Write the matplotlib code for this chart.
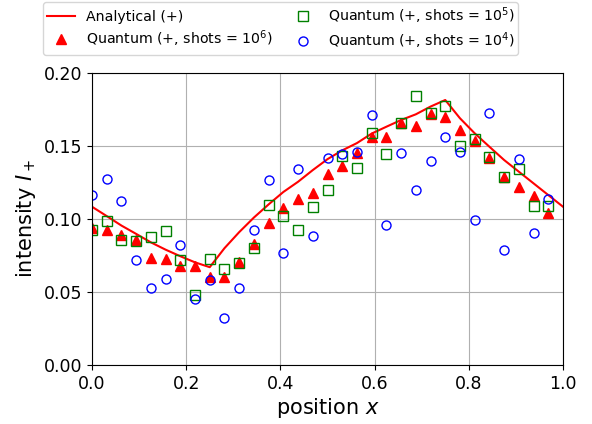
import numpy as np
import matplotlib
matplotlib.use("Agg")
import matplotlib.pyplot as plt

# positions x_i = i/32
n_points = 32
x_points = [i / 32 for i in range(n_points)]
x_analytical = [i / 32 for i in range(n_points + 1)]

analytical = [0.1084, 0.1020, 0.0955, 0.0898, 0.0840, 0.0790, 0.0745, 0.0703,
              0.0670, 0.0800, 0.0910, 0.1010, 0.1100, 0.1185, 0.1255, 0.1335,
              0.1410, 0.1470, 0.1520, 0.1585, 0.1632, 0.1678, 0.1717, 0.1770,
              0.1815, 0.1690, 0.1587, 0.1495, 0.1404, 0.1324, 0.1244, 0.1164,
              0.1084]

shots_1e6 = [0.0940, 0.0925, 0.0890, 0.0856, 0.0730, 0.0726, 0.0680, 0.0678,
             0.0603, 0.0605, 0.0708, 0.0829, 0.0970, 0.1078, 0.1137, 0.1180,
             0.1309, 0.1360, 0.1450, 0.1560, 0.1560, 0.1655, 0.1637, 0.1720,
             0.1696, 0.1610, 0.1534, 0.1418, 0.1285, 0.1222, 0.1160, 0.1039]

shots_1e5 = [0.0925, 0.0986, 0.0856, 0.0850, 0.0880, 0.0918, 0.0720, 0.0480,
             0.0723, 0.0660, 0.0696, 0.0800, 0.1096, 0.1018, 0.0928, 0.1080,
             0.1198, 0.1429, 0.1352, 0.1587, 0.1445, 0.1660, 0.1845, 0.1728,
             0.1776, 0.1502, 0.1550, 0.1422, 0.1288, 0.1340, 0.1090, 0.1090]

shots_1e4 = [0.1165, 0.1275, 0.1120, 0.0720, 0.0525, 0.0590, 0.0825, 0.0455,
             0.0585, 0.0320, 0.0525, 0.0925, 0.1270, 0.0765, 0.1340, 0.0885,
             0.1415, 0.1445, 0.1460, 0.1710, 0.0959, 0.1450, 0.1196, 0.1400,
             0.1560, 0.1460, 0.0995, 0.1726, 0.0785, 0.1413, 0.0904, 0.1137]

x_ticks = [0.0, 0.2, 0.4, 0.6, 0.8, 1.0]
y_ticks = [0.00, 0.05, 0.10, 0.15, 0.20]

fig = plt.figure(figsize=(5.92, 4.24), dpi=100)
ax = fig.add_axes([92 / 592, 1 - 365 / 424, (563 - 92) / 592, (365 - 73) / 424])

ax.plot(x_analytical, analytical, color="red", lw=1.5, label="Analytical (+)")
ax.plot(x_points, shots_1e6, ls="none", marker="^", color="red", ms=6.5,
        label="Quantum (+, shots = $10^6$)")
ax.plot(x_points, shots_1e5, ls="none", marker="s", mfc="none", mec="green", ms=6.5,
        label="Quantum (+, shots = $10^5$)")
ax.plot(x_points, shots_1e4, ls="none", marker="o", mfc="none", mec="blue", ms=6.5,
        label="Quantum (+, shots = $10^4$)")

ax.set_xlim(0, 1)
ax.set_ylim(0, 0.2)
ax.set_xticks(x_ticks)
ax.set_yticks(y_ticks)
ax.set_xticklabels([f"{v:.1f}" for v in x_ticks])
ax.set_yticklabels([f"{v:.2f}" for v in y_ticks])
ax.tick_params(labelsize=12.5)
ax.grid(True, color="#b0b0b0", lw=0.8)
ax.set_axisbelow(True)
ax.set_xlabel("position $x$", fontsize=15, labelpad=2)
ax.set_ylabel("intensity $I_+$", fontsize=15)

fig.legend(loc="upper left", bbox_to_anchor=(43 / 592, 1 - 2 / 424),
           borderaxespad=0, ncol=2, fontsize=10.2, numpoints=1,
           columnspacing=1.1, labelspacing=0.3, borderpad=0.25)

fig.savefig("out.png", dpi=100)
